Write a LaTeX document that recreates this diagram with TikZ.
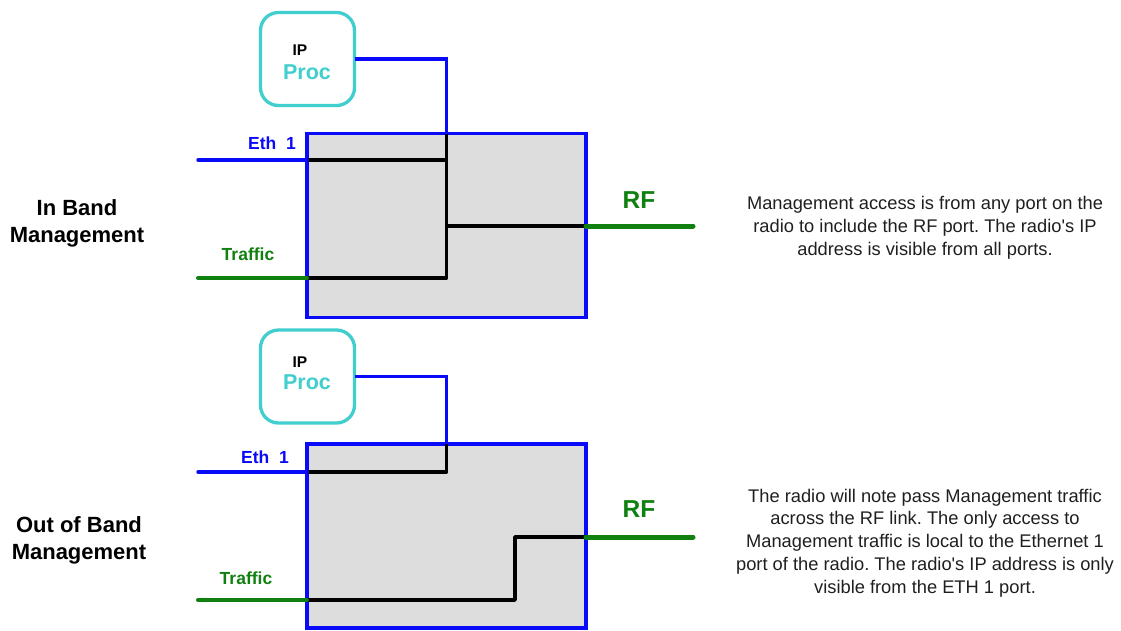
\documentclass[tikz,border=0pt]{standalone}
\usepackage{fontspec}
\setmainfont{Liberation Sans}
\frenchspacing
\definecolor{bl}{RGB}{10,10,250}
\definecolor{gr}{RGB}{16,128,16}
\definecolor{cy}{RGB}{64,206,206}
\definecolor{bx}{RGB}{221,221,221}
\begin{document}
\begin{tikzpicture}[x=1pt,y=-1pt,
 unit/.style={draw=bl, line width=3.5pt, fill=bx, minimum width=279pt, minimum height=184pt, inner sep=0pt, outer sep=0pt},
 ipbox/.style={draw=cy, line width=3.3pt, rounded corners=18pt, minimum width=94pt, minimum height=93pt, align=center, inner sep=0pt, outer sep=0pt, fill=white},
 blink/.style={draw=bl, line width=3.5pt},
 klink/.style={draw=black, line width=3.5pt, line join=round},
 glink/.style={draw=gr, line width=4pt, line cap=round},
 rflink/.style={draw=gr, line width=5pt, line cap=round},
 portlbl/.style={font=\fontsize{17.5}{20}\selectfont\bfseries, inner sep=0pt},
 rflbl/.style={font=\fontsize{24.5}{28}\selectfont\bfseries, text=gr, inner sep=0pt},
 title/.style={font=\fontsize{22}{27}\selectfont\bfseries, align=center, inner sep=0pt},
 desc/.style={font=\fontsize{18.3}{22.8}\selectfont, align=center, inner sep=0pt, text=black!88},
 iptext/.style={font=\fontsize{15.5}{22}\selectfont\bfseries},
 proctext/.style={font=\fontsize{21.5}{22}\selectfont\bfseries, text=cy},
]
\useasboundingbox (0,0) rectangle (1121,630);

% ---------- In band ----------
\node[unit] (u1) at (446.5,225.5) {};
\node[ipbox] (p1) at (307.5,59) {};
\node[iptext] (ip1) at (300,50) {IP};
\node[proctext] (pr1) at (307,72) {Proc};
\coordinate (e1) at (198,160);
\coordinate (t1) at (198,278);
\coordinate (r1) at (693,226);
\draw[blink] (p1.east) -| (u1.north);
\draw[klink] (u1.north) -- (u1.north |- t1) -- (u1.west |- t1);
\draw[klink] (u1.west |- e1) -- (u1.north |- e1);
\draw[klink] (u1.north |- r1) -- (u1.east |- r1);
\draw[blink, line cap=round] (e1) -- (u1.west |- e1);
\draw[glink] (t1) -- (u1.west |- t1);
\draw[rflink] (u1.east |- r1) -- (r1);
\node[portlbl, text=bl] (eth1) at (272,143) {Eth\ \ 1};
\node[portlbl, text=gr] (tr1) at (248,254) {Traffic};
\node[rflbl] (rf1) at (639,200) {RF};
\node[title] (ti1) at (77,223) {In Band\\Management};
\node[desc] (d1) at (925,228) {Management access is from any port on the\\radio to include the RF port. The radio\textquotesingle s IP\\address is visible from all ports.};

% ---------- Out of band ----------
\node[unit] (u2) at (446.5,536) {};
\node[ipbox] (p2) at (307.5,376.5) {};
\node[iptext] (ip2) at (300,362) {IP};
\node[proctext] (pr2) at (307,382) {Proc};
\coordinate (e2) at (198,472);
\coordinate (t2) at (198,600);
\coordinate (r2) at (693,537);
\coordinate (s2) at (515,537);
\draw[blink] (p2.east) -| (u2.north);
\draw[klink] (u2.north) |- (u2.west |- e2);
\draw[klink] (u2.west |- t2) -| (s2) -- (u2.east |- s2);
\draw[blink, line cap=round] (e2) -- (u2.west |- e2);
\draw[glink] (t2) -- (u2.west |- t2);
\draw[rflink] (u2.east |- r2) -- (r2);
\node[portlbl, text=bl] (eth2) at (265,457) {Eth\ \ 1};
\node[portlbl, text=gr] (tr2) at (246,578) {Traffic};
\node[rflbl] (rf2) at (639,509) {RF};
\node[title] (ti2) at (79,540) {Out of Band\\Management};
\node[desc] (d2) at (925,543) {The radio will note pass Management traffic\\across the RF link. The only access to\\Management traffic is local to the Ethernet 1\\port of the radio. The radio\textquotesingle s IP address is only\\visible from the ETH 1 port.};
\end{tikzpicture}
\end{document}
